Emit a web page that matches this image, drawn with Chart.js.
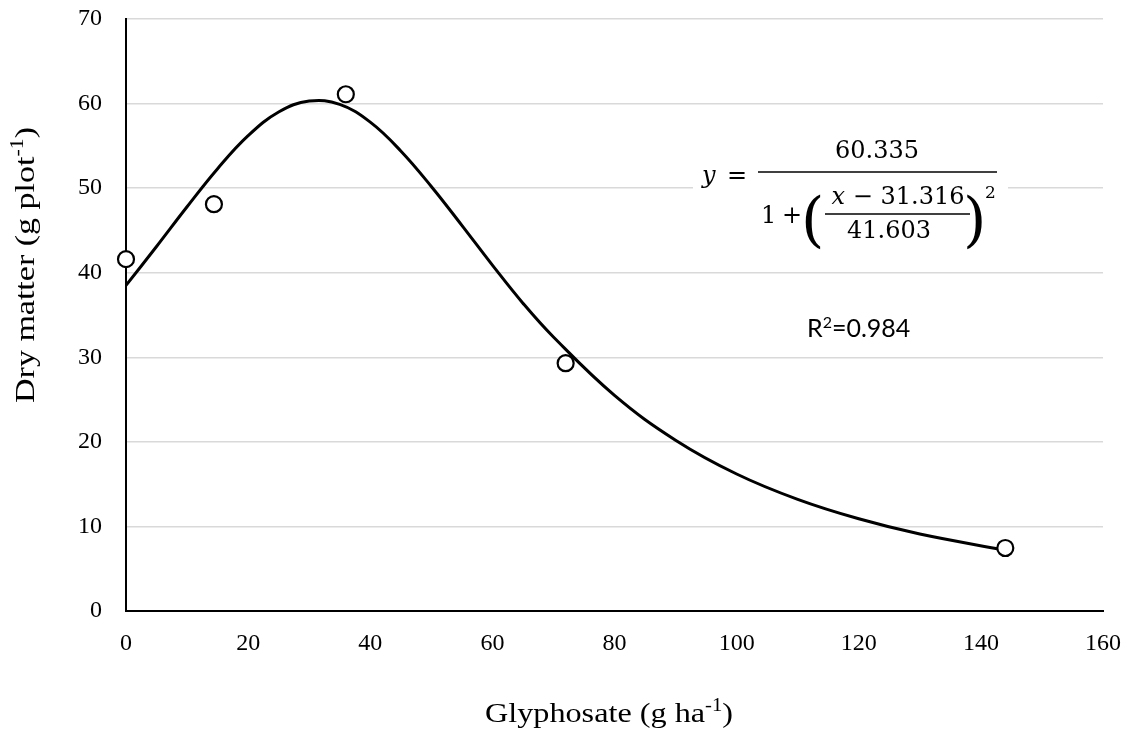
<!DOCTYPE html>
<html>
<head>
<meta charset="utf-8">
<script src="https://cdn.jsdelivr.net/npm/chart.js@4/dist/chart.umd.min.js"></script>
<style>
  html, body { margin: 0; padding: 0; background: #fff; }
  #wrap { width: 1128px; height: 733px; }
  .pre { position: absolute; left: -9999px; top: 0; font-family: "Liberation Serif"; }
</style>
</head>
<body>
<span class="pre">0123456789 Glyphosate</span>
<div id="wrap"><canvas id="c" width="1128" height="733"></canvas></div>
<script>
// Observed data points
const obsX = [0, 14.4, 36, 72, 144];
const obsY = [41.6, 48.1, 61.1, 29.3, 7.45];

// Fitted curve
const fitX = [0, 5, 10, 15, 20, 25, 30, 35, 40, 45, 50, 55, 60, 65, 70, 80, 90, 100, 110, 120, 130, 144];
const fitY = [38.5, 43.1, 47.8, 52.3, 56.2, 59.0, 60.3, 59.9, 57.8, 54.4, 50.2, 45.6, 40.9, 36.4, 32.4, 25.5, 20.2, 16.2, 13.2, 10.9, 9.1, 7.2];

const xTicks = [0, 20, 40, 60, 80, 100, 120, 140, 160];
const yTicks = [0, 10, 20, 30, 40, 50, 60, 70];

const obsData = obsX.map((x, i) => ({ x: x, y: obsY[i] }));
const fitData = fitX.map((x, i) => ({ x: x, y: fitY[i] }));

const L = 126, R = 1103, T = 19, B = 611;
const SERIF = '"Liberation Serif", "Times New Roman", Times, serif';

function partsWidth(ctx, parts) {
  let total = 0;
  parts.forEach(p => { ctx.font = p.font; total += ctx.measureText(p.t).width; });
  return total;
}
function drawSup(ctx, parts, x, y, align) {
  const total = partsWidth(ctx, parts);
  let cx = align === 'center' ? x - total / 2 : x;
  parts.forEach(p => {
    ctx.font = p.font;
    ctx.fillText(p.t, cx, y + (p.dy || 0));
    cx += ctx.measureText(p.t).width;
  });
}
function drawStretched(ctx, parts, target) {
  const w = partsWidth(ctx, parts);
  ctx.scale(target / w, 1);
  drawSup(ctx, parts, 0, 0, 'center');
}

const annot = {
  id: 'annot',
  afterDraw(chart) {
    const ctx = chart.ctx;
    ctx.save();
    ctx.fillStyle = '#000';
    ctx.textBaseline = 'alphabetic';
    ctx.textAlign = 'left';
    const tf = '28px ' + SERIF;
    const sf = '18px ' + SERIF;
    ctx.save();
    ctx.translate(609, 722);
    drawStretched(ctx, [
      { t: 'Glyphosate (g ha', font: tf },
      { t: '-1', font: sf, dy: -11 },
      { t: ')', font: tf }
    ], 248);
    ctx.restore();
    ctx.save();
    ctx.translate(34, 265);
    ctx.rotate(-Math.PI / 2);
    drawStretched(ctx, [
      { t: 'Dry matter (g plot', font: tf },
      { t: '-1', font: sf, dy: -11 },
      { t: ')', font: tf }
    ], 276);
    ctx.restore();

    ctx.fillStyle = '#fff';
    ctx.fillRect(693, 130, 315, 122);
    ctx.fillStyle = '#000';
    const ef = '24px "DejaVu Serif"';
    const eif = 'italic 24px "DejaVu Serif"';
    ctx.font = eif;
    ctx.fillText('y', 702, 183);
    ctx.font = ef;
    ctx.fillText('=', 727, 183);
    ctx.lineWidth = 1.5;
    ctx.strokeStyle = '#000';
    ctx.beginPath(); ctx.moveTo(758, 172); ctx.lineTo(997, 172); ctx.stroke();
    ctx.textAlign = 'center';
    ctx.fillText('60.335', 877, 158);
    ctx.textAlign = 'left';
    ctx.fillText('1', 761, 223);
    ctx.fillText('+', 782, 223);
    ctx.font = '60px "DejaVu Serif"';
    ctx.fillText('(', 801, 240);
    ctx.fillText(')', 963, 240);
    ctx.font = ef;
    drawSup(ctx, [
      { t: 'x', font: eif },
      { t: ' \u2212 31.316', font: ef }
    ], 898, 204, 'center');
    ctx.beginPath(); ctx.moveTo(825, 214); ctx.lineTo(970, 214); ctx.stroke();
    ctx.textAlign = 'center';
    ctx.fillText('41.603', 889, 238);
    ctx.textAlign = 'left';
    ctx.font = '17px "DejaVu Serif"';
    ctx.fillText('2', 985, 198);

    drawSup(ctx, [
      { t: 'R', font: '25px Lato' },
      { t: '2', font: '16px Lato', dy: -9 },
      { t: '=0.984', font: '25px Lato' }
    ], 807, 337, 'left');
    ctx.restore();
  }
};

new Chart(document.getElementById('c'), {
  type: 'scatter',
  data: {
    datasets: [
      {
        label: 'Observed',
        data: obsData,
        pointRadius: 8,
        pointBorderWidth: 2.2,
        pointBorderColor: '#000',
        pointBackgroundColor: '#fff',
        showLine: false,
        clip: false,
        order: 0
      },
      {
        label: 'Fit',
        data: fitData,
        showLine: true,
        borderColor: '#000',
        borderWidth: 3,
        pointRadius: 0,
        tension: 0.4,
        fill: false,
        order: 1
      }
    ]
  },
  options: {
    responsive: false,
    animation: false,
    devicePixelRatio: 1,
    layout: { padding: 0, autoPadding: false },
    plugins: { legend: { display: false }, tooltip: { enabled: false } },
    scales: {
      x: {
        type: 'linear',
        min: 0, max: 160,
        afterFit(s) { s.height = 733 - B; s.paddingLeft = 0; s.paddingRight = 1128 - R; },
        afterBuildTicks(s) { s.ticks = xTicks.map(v => ({ value: v })); },
        grid: { display: false, drawTicks: false },
        border: { display: true, color: '#000', width: 2 },
        ticks: { color: '#000', font: { family: SERIF, size: 24 }, padding: 18, maxRotation: 0 }
      },
      y: {
        type: 'linear',
        min: 0, max: 70,
        afterFit(s) { s.width = L; s.paddingTop = T; s.paddingBottom = 0; },
        afterBuildTicks(s) { s.ticks = yTicks.map(v => ({ value: v })); },
        grid: { color: '#d9d9d9', lineWidth: 1.5, drawTicks: false },
        border: { display: true, color: '#000', width: 2 },
        ticks: { color: '#000', font: { family: SERIF, size: 24 }, padding: 24 }
      }
    }
  },
  plugins: [annot]
});
</script>
</body>
</html>
